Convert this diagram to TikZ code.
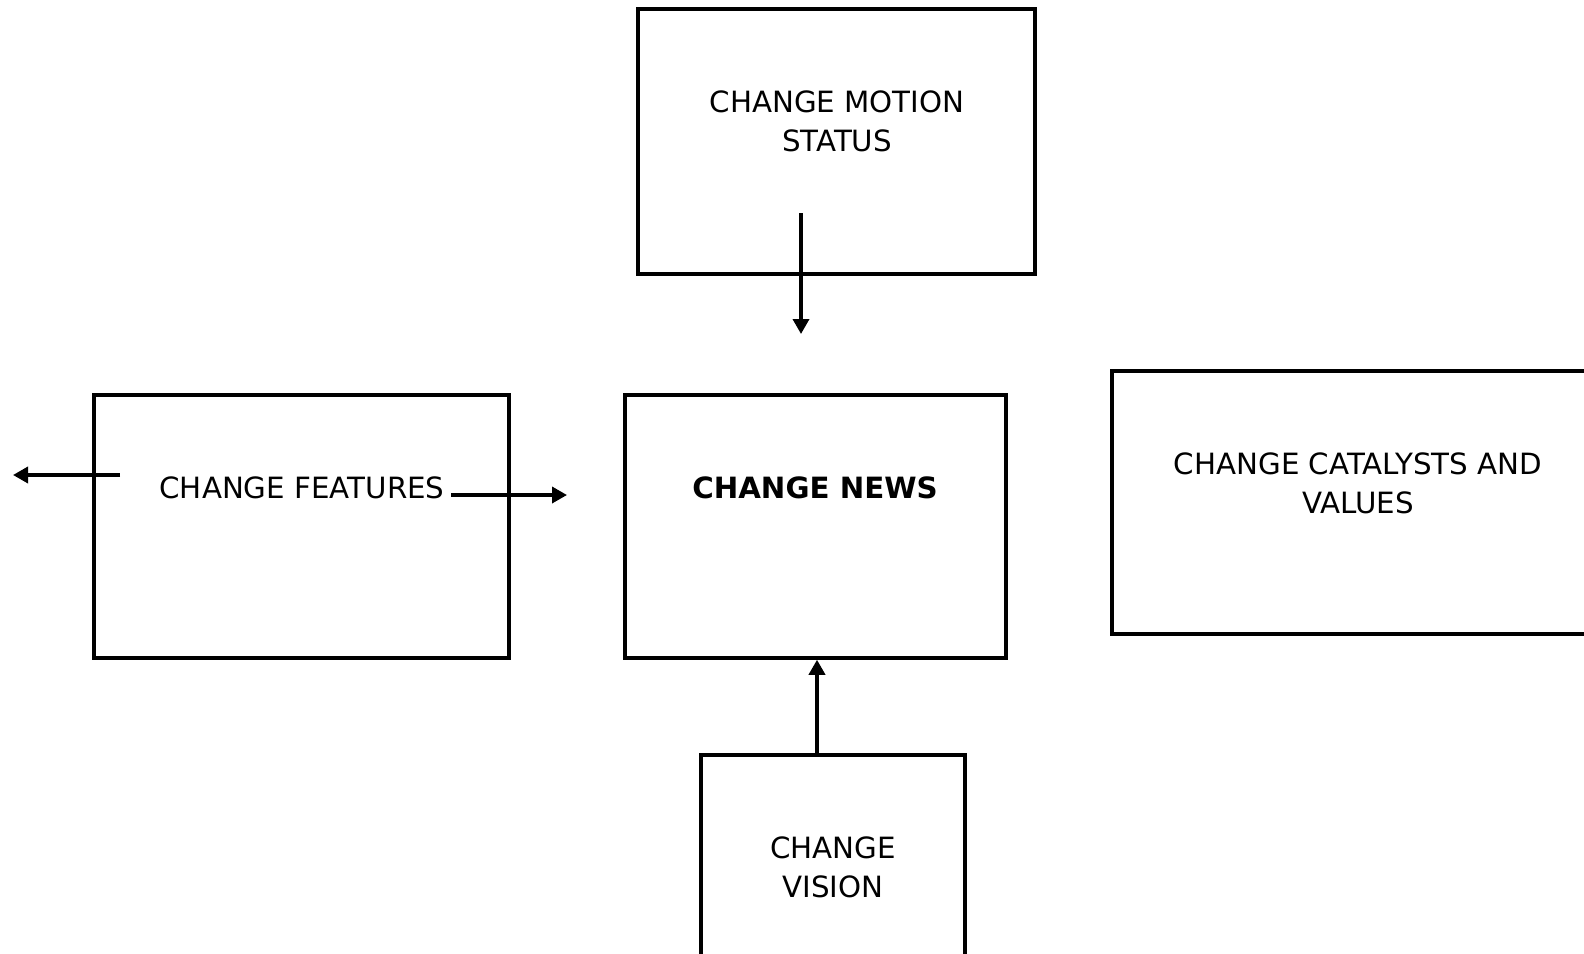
\documentclass[tikz,border=0pt]{standalone}
\usepackage{fontspec}
\setmainfont{DejaVu Sans}
\usetikzlibrary{arrows.meta}
\begin{document}
\begin{tikzpicture}[x=1pt,y=-1pt,
  panel/.style={draw=black,line width=3.5pt,inner sep=0pt},
  caption/.style={inner sep=0pt,align=center,font=\fontsize{29.3}{39.5}\selectfont},
  link/.style={line width=3.5pt,-{Triangle[length=15pt,width=16pt]}}]
\useasboundingbox (0,0) rectangle (1584,953);
% boxes
\node[panel,minimum width=397pt,minimum height=265pt] (motion) at (836.5,141.5) {};
\node[panel,minimum width=381pt,minimum height=263pt] (news) at (815.5,526.5) {};
\node[panel,minimum width=415pt,minimum height=263pt] (features) at (301.5,526.5) {};
\node[panel,minimum width=500pt,minimum height=263pt] (catalysts) at (1362,502.5) {};
\node[panel,minimum width=264pt,minimum height=260pt] (vision) at (833,885) {};
% captions
\node[caption] (tmotion) at (837,121.5) {CHANGE MOTION\\STATUS};
\node[caption] (tnews) at (815,488) {\bfseries CHANGE NEWS};
\node[caption] (tfeatures) at (302,488) {CHANGE FEATURES};
\node[caption] (tcatalysts) at (1358,483.5) {CHANGE CATALYSTS AND\\VALUES};
\node[caption] (tvision) at (833,867.5) {CHANGE\\VISION};
% connector ends
\coordinate (m1) at (801,213);
\coordinate (m2) at (801,334);
\coordinate (f1) at (120,475);
\coordinate (f2) at (13,475);
\coordinate (g1) at (451,495);
\coordinate (g2) at (567,495);
\draw[link] (m1) -- (m2);
\draw[link] (f1) -- (f2);
\draw[link] (g1) -- (g2);
\draw[link] (vision.north -| 817,0) -- (news.south -| 817,0);
\end{tikzpicture}
\end{document}
